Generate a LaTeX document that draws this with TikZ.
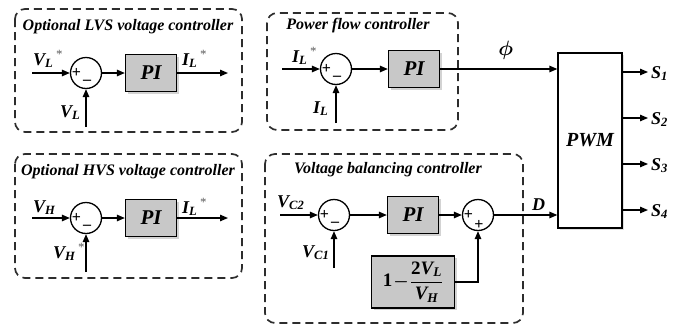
\documentclass[tikz,border=0pt]{standalone}
\usepackage{fontspec}
\setmainfont{Liberation Serif}
\usepackage{amsmath}
\usepackage{amssymb}
\usepackage{tikz}
\usetikzlibrary{arrows.meta, positioning, shadows}
\definecolor{piFill}  {RGB}{200,200,200}
\definecolor{frameClr}{RGB}{ 45, 45, 45}
\newcommand{\vsb}[2]{#1\textsubscript{#2}}
\newcommand{\refst}{\textsuperscript{\mdseries\color{black!65}\,*}}
\tikzset{
  ctrlbox/.style={draw=frameClr, line width=1.7pt, dash pattern=on 8pt off 5pt,
    rounded corners=10pt},
  ttl/.style={font=\fontsize{16}{18}\selectfont\bfseries\itshape, inner sep=0pt},
  sumnode/.style={circle, draw, line width=1.3pt, minimum size=31pt, inner sep=0pt},
  pibox/.style={rectangle, draw, line width=1.3pt, fill=piFill, minimum width=51pt,
    minimum height=37pt, font=\fontsize{21}{23}\selectfont\bfseries\itshape,
    drop shadow={shadow xshift=2pt, shadow yshift=-2pt, opacity=.35}},
  gainbox/.style={rectangle, draw, line width=1.3pt, fill=piFill, minimum width=83pt,
    minimum height=52pt, inner sep=1pt, font=\fontsize{19}{21}\selectfont\bfseries\boldmath,
    drop shadow={shadow xshift=2pt, shadow yshift=-2pt, opacity=.35}},
  pwmbox/.style={rectangle, draw, line width=1.3pt, fill=white, minimum width=64pt,
    minimum height=175pt, font=\fontsize{20}{22}\selectfont\bfseries\itshape,
    drop shadow={shadow xshift=1.5pt, shadow yshift=-1.5pt, opacity=.25}},
  sgn/.style={font=\fontsize{16}{16}\selectfont\bfseries, inner sep=0pt},
  lbl/.style={font=\fontsize{18}{20}\selectfont\bfseries\itshape, inner sep=0pt, anchor=base west},
  arr/.style={-{Triangle[length=8pt,width=6.5pt]}, line width=1.3pt},
}

\begin{document}
\begin{tikzpicture}[x=1pt, y=-1pt]
\useasboundingbox (0,0) rectangle (686,327);
% dashed controller frames
\draw[ctrlbox] (15,9) rectangle (242,132);
\draw[ctrlbox] (15,154) rectangle (242,278);
\draw[ctrlbox] (267,13) rectangle (458,130);
\draw[ctrlbox] (265,154) rectangle (523,323);

% optional LVS voltage controller
\node[ttl] (tLVS) at (128,27) {Optional LVS voltage controller};
\node[sumnode] (sLVS) at (86,73) {};
\node[sgn] (pLVS) at ([xshift=-9.5pt]sLVS.center) {+};
\node[sgn] (mLVS) at ([xshift=1pt, yshift=-9pt]sLVS.center) {--};
\node[pibox] (piLVS) at (151,73) {PI};
\coordinate (inLVS) at (32,73);
\coordinate (fbLVS) at (86,127);
\coordinate (outLVS) at (228,73);
\draw[arr] (inLVS) -- (sLVS);
\draw[arr] (sLVS) -- (piLVS);
\draw[arr] (piLVS) -- (outLVS);
\draw[arr] (fbLVS) -- (sLVS);
\node[lbl] (vLref) at (33,65) {\vsb{V}{L}\refst};
\node[lbl] (iLout) at (182,65) {\vsb{I}{L}\refst};
\node[lbl] (vLfb) at (60,117) {\vsb{V}{L}};

% optional HVS voltage controller
\node[ttl] (tHVS) at (128,172) {Optional HVS voltage controller};
\node[sumnode] (sHVS) at (86,218) {};
\node[sgn] (pHVS) at ([xshift=-9.5pt]sHVS.center) {+};
\node[sgn] (mHVS) at ([xshift=1pt, yshift=-9pt]sHVS.center) {--};
\node[pibox] (piHVS) at (151,218) {PI};
\coordinate (inHVS) at (32,218);
\coordinate (fbHVS) at (86,272);
\coordinate (outHVS) at (228,218);
\draw[arr] (inHVS) -- (sHVS);
\draw[arr] (sHVS) -- (piHVS);
\draw[arr] (piHVS) -- (outHVS);
\draw[arr] (fbHVS) -- (sHVS);
\node[lbl] (vH) at (33,212) {\vsb{V}{H}};
\node[lbl] (iLoutH) at (182,213) {\vsb{I}{L}\refst};
\node[lbl] (vHref) at (53,258) {\vsb{V}{H}\refst};

% power flow controller
\node[ttl] (tPF) at (358,26) {Power flow controller};
\node[sumnode] (sPF) at (336,69) {};
\node[sgn] (pPF) at ([xshift=-9.5pt]sPF.center) {+};
\node[sgn] (mPF) at ([xshift=1pt, yshift=-9pt]sPF.center) {--};
\node[pibox] (piPF) at (414,69) {PI};
\coordinate (inPF) at (282,69);
\coordinate (fbPF) at (336,123);
\draw[arr] (inPF) -- (sPF);
\draw[arr] (sPF) -- (piPF);
\draw[arr] (fbPF) -- (sPF);
\node[lbl] (iLref) at (292,62) {\vsb{I}{L}\refst};
\node[lbl] (iLfb) at (313,113) {\vsb{I}{L}};

% voltage balancing controller
\node[ttl] (tVB) at (388,170) {Voltage balancing controller};
\node[sumnode] (sVB) at (334,215) {};
\node[sgn] (pVB) at ([xshift=-9.5pt]sVB.center) {+};
\node[sgn] (mVB) at ([xshift=1pt, yshift=-9pt]sVB.center) {--};
\node[pibox] (piVB) at (413,215) {PI};
\node[sumnode] (sVB2) at (478,215) {};
\node[sgn] (pVB2) at ([xshift=-9.5pt]sVB2.center) {+};
\node[sgn] (qVB2) at ([xshift=1pt, yshift=-10pt]sVB2.center) {+};
\node[gainbox] (gain) at (413,282)
  {$\text{1}\!-\!\dfrac{\text{2\itshape\vsb{V}{L}}}{\text{\itshape\vsb{V}{H}}}$};
\coordinate (inVB) at (280,215);
\coordinate (fbVB) at (334,268);
\draw[arr] (inVB) -- (sVB);
\draw[arr] (sVB) -- (piVB);
\draw[arr] (piVB) -- (sVB2);
\draw[arr] (fbVB) -- (sVB);
\draw[arr] (gain.east) -| (sVB2.south);
\node[lbl] (vC2) at (277,207) {\vsb{V}{C2}};
\node[lbl] (vC1) at (302,257) {\vsb{V}{C1}};

% modulator
\node[pwmbox] (pwm) at (590,140.5) {PWM};
\draw[arr] (piPF) -- (piPF -| pwm.west) node[pos=0.56, above=5pt, font=\fontsize{20}{22}\selectfont] (phi) {$\boldsymbol{\phi}$};
\draw[arr] (sVB2) -- (sVB2 -| pwm.west);
\node[lbl] (dLbl) at (532,210) {D};
\foreach \i/\yy in {1/72, 2/118, 3/164, 4/210} {
  \coordinate (o\i) at (648,\yy);
  \draw[arr] (o\i -| pwm.east) -- (o\i);
  \node[lbl] (S\i) at (651,\yy+6) {\vsb{S}{\i}};
}
\end{tikzpicture}
\end{document}
